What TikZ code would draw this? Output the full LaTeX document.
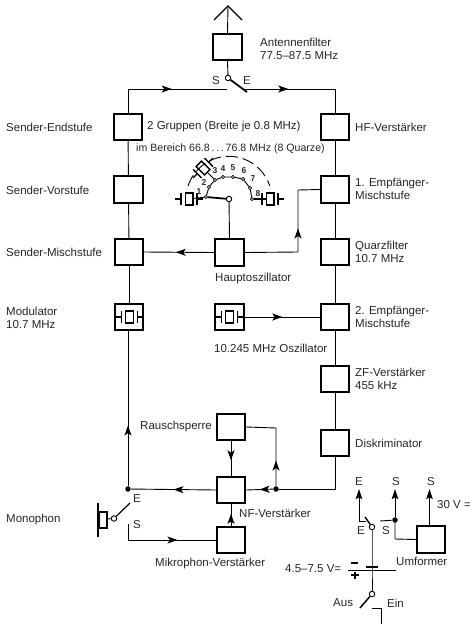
\documentclass[tikz,border=0pt]{standalone}
\usepackage{fontspec}
\setmainfont{Liberation Sans}
\usetikzlibrary{arrows.meta,decorations.markings}
\tikzset{
 blk/.style={draw,line width=1.8pt,minimum width=28.5pt,minimum height=26.5pt,inner sep=0pt},
 lab/.style={font=\fontsize{11.5}{13.5}\selectfont,inner sep=0pt,text=black!85,align=left,anchor=west},
 tiny/.style={font=\fontsize{8.5}{9}\selectfont\bfseries,inner sep=0pt,text=black!85},
 wire/.style={line width=0.9pt},
 lever/.style={line width=1.8pt},
 hole/.style={circle,draw,line width=0.9pt,fill=white,minimum size=5.5pt,inner sep=0pt},
 pin/.style={circle,draw,line width=0.6pt,fill=white,minimum size=3.2pt,inner sep=0pt},
 sdot/.style={circle,fill=black,minimum size=5.5pt,inner sep=0pt},
 tip at/.style={postaction={decorate},decoration={markings,mark=at position #1 with {\arrow{Stealth[length=10pt,width=7pt,inset=2.5pt]}}}},
 end tip/.style={-{Stealth[length=10pt,width=6.5pt,inset=1.5pt]}},
}
\newcommand{\xtalsym}[3]{%
 \begin{scope}[shift={(#1,#2)},rotate=#3]
  \draw[line width=1.4pt,fill=white] (-3.8,-6) rectangle (3.8,6);
  \draw[line width=1.4pt] (-8,-6)--(-8,6) (8,-6)--(8,6);
  \draw[line width=1.4pt] (-14,0)--(-8,0) (8,0)--(14,0);
 \end{scope}}
\begin{document}
\begin{tikzpicture}[x=1pt,y=-1pt]
\useasboundingbox (0,0) rectangle (470,624);
\fill[white] (0,0) rectangle (470,624);
% blocks
\node[blk] (ant) at (227.5,47) {};
\node[blk] (send) at (128,127) {};
\node[blk] (svor) at (128.5,189.5) {};
\node[blk] (smix) at (129,252) {};
\node[blk] (mod) at (129,317) {};
\node[blk] (hf) at (335,127) {};
\node[blk] (emp) at (335,189.5) {};
\node[blk] (qf) at (335,252) {};
\node[blk] (emp2) at (335,317) {};
\node[blk] (zf) at (335,379) {};
\node[blk] (dis) at (335,443) {};
\node[blk] (haupt) at (229.5,252.5) {};
\node[blk] (osz) at (229.5,317) {};
\node[blk] (rau) at (231,427) {};
\node[blk] (nf) at (231,490) {};
\node[blk] (mik) at (231,540) {};
\node[blk] (umf) at (431,539.5) {};
% antenna
\coordinate (apex) at (228,6);
\draw[wire] (ant.north) -- (apex);
\draw[line width=1.4pt] (214,20) -- (apex) -- (242,20);
% antenna switch
\node[hole] (asw) at (228,78) {};
\draw[wire] (ant.south) -- (asw);
\coordinate (alev) at (247,92);
\draw[lever] (asw) -- (alev);
\coordinate (sc) at (227,89);
\coordinate (ec) at (245,89);
\draw[wire,tip at=0.55] (send.north) |- (sc);
\draw[wire,tip at=0.38] (ec) -| (hf.north);
% columns
\draw[wire] (send) -- (svor);
\draw[wire] (svor) -- (smix);
\draw[wire] (smix) -- (mod);
\draw[wire] (hf) -- (emp);
\draw[wire] (emp) -- (qf);
\draw[wire] (qf) -- (emp2);
\draw[wire] (emp2) -- (zf);
\draw[wire] (zf) -- (dis);
% crystal selector
\node[hole] (piv) at (229,199) {};
\draw[wire] (piv) -- (haupt.north);
\coordinate (xl) at (189,199);
\coordinate (xr) at (270,199);
\coordinate (x3) at (203,168);
\node[pin] (c1) at (206,197) {};
\node[pin] (c2) at (209,187) {};
\node[pin] (c3) at (215,180) {};
\node[pin] (c4) at (223,177) {};
\node[pin] (c5) at (233,177) {};
\node[pin] (c6) at (243,179) {};
\node[pin] (c7) at (250,188) {};
\node[pin] (c8) at (252,199) {};
\draw[wire] (c1) -- (c2) -- (c3) -- (c4) -- (c5) -- (c6) -- (c7) -- (c8);
\draw[lever] (piv) -- (c1);
\draw[wire] (c1) -- (xl);
\draw[lever] (c8) -- (xr);
\draw[wire] (c3) -- (x3);
\xtalsym{189}{199}{0}
\xtalsym{270}{199}{0}
\xtalsym{203}{168}{45}
\draw[line width=0.9pt,dash pattern=on 12pt off 5pt] (188,186) arc[start angle=-162,end angle=-18,radius=43];
\node[tiny] at (199,192) {1};
\node[tiny] at (204,183) {2};
\node[tiny] at (215,171) {3};
\node[tiny] at (223,169) {4};
\node[tiny] at (233,168) {5};
\node[tiny] at (244,171) {6};
\node[tiny] at (253,179) {7};
\node[tiny] at (258,194) {8};
% Hauptoszillator outputs
\draw[wire,tip at=0.55] (haupt.west) -- (smix.east);
\coordinate (hbend) at (298,252);
\coordinate (hup) at (298,190);
\draw[wire,tip at=0.56] (haupt.east) -- (hbend) -- (hup) -- (emp.west);
% modulator + oscillator
\xtalsym{129.5}{317}{0}
\xtalsym{229.5}{317}{0}
\draw[wire,tip at=0.5] (osz.east) -- (emp2.west);
% audio section
\node[sdot] (dleft) at (128,489) {};
\node[sdot] (dright) at (276,489) {};
\coordinate (dcor) at (335,489);
\coordinate (rcor) at (276,428);
\coordinate (mcor) at (128,540);
\coordinate (mtop) at (128,331);
\draw[wire,tip at=0.39] (dleft) -- (mtop);
\draw[wire] (dis.south) -- (dcor) -- (dright);
\draw[wire,tip at=0.5] (dright) -- (nf.east);
\draw[wire,tip at=0.5] (nf.west) -- (dleft);
\draw[wire,tip at=0.29] (dright) -- (rcor) -- (rau.east);
\draw[wire,tip at=0.55] (rau.south) -- (nf.north);
\draw[wire,tip at=0.55] (mik.north) -- (nf.south);
\coordinate (sms) at (128,524);
\draw[wire,tip at=0.63] (sms) -- (mcor) -- (mik.west);
% mic switch
\coordinate (ems) at (130,503);
\node[hole] (msw) at (114,518.5) {};
\draw[line width=1.2pt] (msw) -- (ems);
\draw[line width=1.5pt] (99.5,512) rectangle (107,528);
\draw[line width=2pt] (98,503) -- (98,537);
\draw[wire] (107,519) -- (msw);
% power section
\node[hole] (psw) at (372,527) {};
\node[hole] (onsw) at (372,594) {};
\coordinate (batt) at (372,567);
\draw[wire] (psw) -- (batt) -- (onsw);
\draw[line width=2.4pt] (366,567) -- (378,567);
\draw[wire] (348,570) -- (396,570);
\draw[line width=1.9pt] (351,563) -- (358,563);
\draw[line width=1.5pt] (351,575) -- (359,575) (355,571.5) -- (355,578.5);
\coordinate (elev) at (365,517);
\draw[line width=1.4pt] (psw) -- (elev);
\coordinate (etop) at (359,489);
\coordinate (ecor) at (359,521);
\coordinate (ein) at (366,521);
\draw[wire,end tip] (ein) -- (ecor) -- (etop);
\node[sdot] (sd) at (395,520) {};
\coordinate (sctc) at (380,521);
\draw[wire] (sctc) -- (sd);
\coordinate (stop) at (395,489);
\draw[wire,end tip] (sd) -- (stop);
\coordinate (scor) at (395,539);
\draw[wire] (sd) -- (scor) -- (umf.west);
\coordinate (utop) at (429.5,489);
\draw[wire,end tip] (umf.north -| utop) -- (utop);
\coordinate (aus) at (360,608);
\draw[line width=1.5pt] (onsw) -- (aus);
\coordinate (einc) at (372,608);
\coordinate (ecor2) at (381,608);
\coordinate (eend) at (381,624);
\draw[wire] (einc) -- (ecor2) -- (eend);
% labels
\node[lab] at (6,127) {Sender-Endstufe};
\node[lab] at (6,190) {Sender-Vorstufe};
\node[lab] at (6,252) {Sender-Mischstufe};
\node[lab] at (6,318) {Modulator\\10.7 MHz};
\node[lab] at (6,520) {Monophon};
\node[lab] at (355,127) {HF-Verstärker};
\node[lab] at (355,189) {1. Empfänger-\\Mischstufe};
\node[lab] at (355,252) {Quarzfilter\\10.7 MHz};
\node[lab] at (355,317) {2. Empfänger-\\Mischstufe};
\node[lab] at (355,379) {ZF-Verstärker\\455 kHz};
\node[lab] at (355,443) {Diskriminator};
\node[lab] at (260,49) {Antennenfilter\\77.5–87.5 MHz};
\node[lab] at (147,127) {2 Gruppen (Breite je 0.8 MHz)};
\node[lab,font=\fontsize{10.6}{13}\selectfont] at (136,149) {im Bereich 66.8\,.\,.\,.\,76.8 MHz (8 Quarze)};
\node[lab] at (215,279) {Hauptoszillator};
\node[lab] at (214,348) {10.245 MHz Oszillator};
\node[lab] at (140,427) {Rauschsperre};
\node[lab] at (239,513) {NF-Verstärker};
\node[lab] at (155,564) {Mikrophon-Verstärker};
\node[lab] at (285,569) {4.5–7.5 V=};
\node[lab] at (212,81) {S};
\node[lab] at (243,81) {E};
\node[lab] at (133,499) {E};
\node[lab] at (133,525) {S};
\node[lab] at (355,482) {E};
\node[lab] at (392,482) {S};
\node[lab] at (427,482) {S};
\node[lab] at (437,505) {30 V =};
\node[lab] at (357,531) {E};
\node[lab] at (382,531) {S};
\node[lab] at (396,561) {Umformer};
\node[lab] at (333,603) {Aus};
\node[lab] at (387,603) {Ein};
\end{tikzpicture}
\end{document}
